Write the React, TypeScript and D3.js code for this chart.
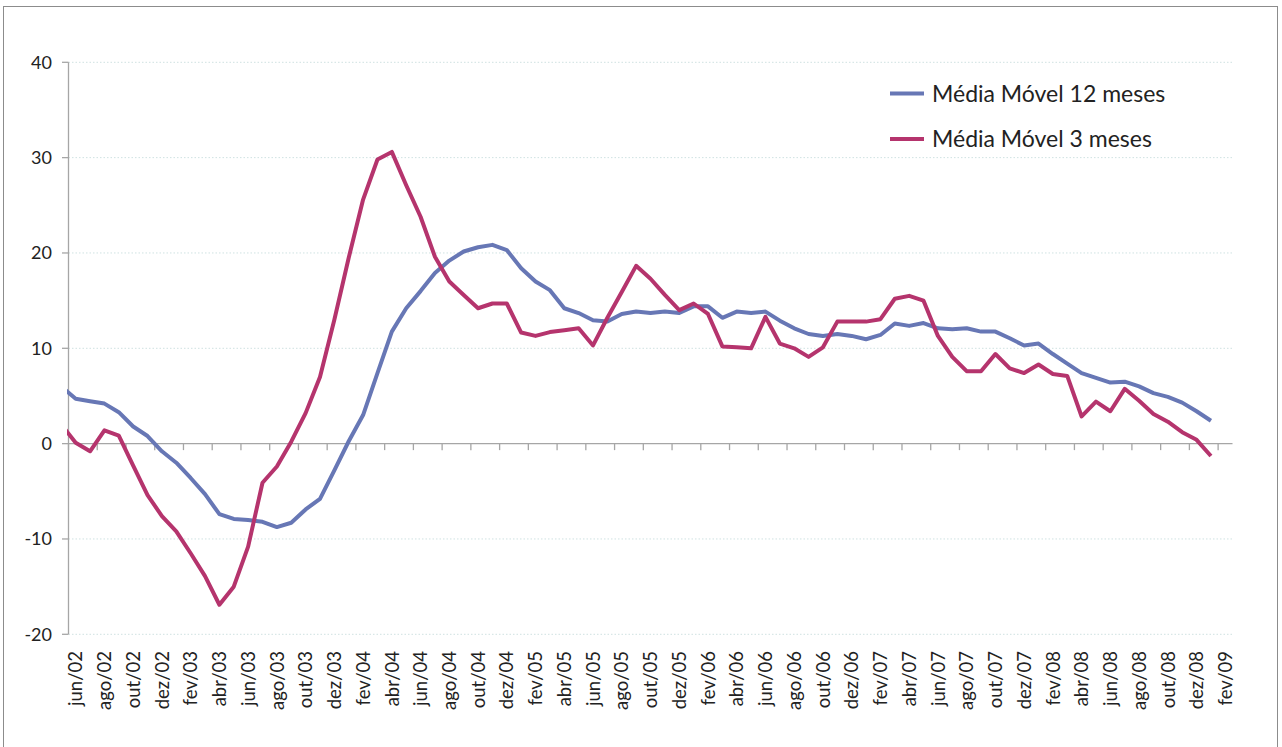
import React, { useRef, useEffect } from 'react';
import * as d3 from 'd3';

// Month abbreviations (pt-BR) used to build the category axis
const MONTH_ABBR = ['jan', 'fev', 'mar', 'abr', 'mai', 'jun', 'jul', 'ago', 'set', 'out', 'nov', 'dez'];

// Categories run from mai/02 (only partly visible, clipped by the axis) to fev/09
const FIRST_MONTH = 4; // mai
const FIRST_YEAR = 2002;
const N_CATEGORIES = 82;

const CATEGORIES: string[] = d3.range(N_CATEGORIES).map(i => {
  const m = (FIRST_MONTH + i) % 12;
  const y = FIRST_YEAR + Math.floor((FIRST_MONTH + i) / 12);
  return `${MONTH_ABBR[m]}/${String(y % 100).padStart(2, '0')}`;
});

// Média móvel 12 meses (mai/02 .. jan/09)
const MEDIA_12 = [
  6.0,
  4.7, 4.45, 4.2, 3.3, 1.8, 0.8, -0.8, -2.0, -3.6, -5.3,
  -7.4, -7.9, -8.0, -8.2, -8.75, -8.3, -6.9, -5.8, -2.8, 0.25,
  3.0, 7.4, 11.75, 14.2, 16.0, 17.9, 19.2, 20.15, 20.6, 20.85,
  20.3, 18.4, 17.0, 16.1, 14.2, 13.7, 12.95, 12.8, 13.6, 13.85,
  13.7, 13.85, 13.7, 14.4, 14.4, 13.2, 13.85, 13.7, 13.85, 12.9,
  12.1, 11.5, 11.3, 11.5, 11.3, 10.95, 11.4, 12.6, 12.35, 12.65,
  12.1, 12.0, 12.1, 11.75, 11.75, 11.05, 10.3, 10.5, 9.4, 8.4,
  7.4, 6.9, 6.4, 6.5, 6.0, 5.3, 4.9, 4.3, 3.4, 2.4
];

// Média móvel 3 meses (mai/02 .. jan/09)
const MEDIA_3 = [
  2.0,
  0.1, -0.8, 1.4, 0.85, -2.3, -5.4, -7.6, -9.2, -11.5, -13.9,
  -16.9, -15.0, -10.8, -4.1, -2.4, 0.2, 3.2, 7.0, 13.0, 19.5,
  25.6, 29.8, 30.6, 27.1, 23.8, 19.6, 17.0, 15.6, 14.2, 14.7,
  14.7, 11.65, 11.3, 11.7, 11.9, 12.1, 10.3, 13.2, 15.9, 18.65,
  17.3, 15.6, 14.0, 14.7, 13.6, 10.2, 10.1, 10.0, 13.3, 10.5,
  10.0, 9.1, 10.1, 12.8, 12.8, 12.8, 13.05, 15.2, 15.5, 15.0,
  11.3, 9.1, 7.6, 7.6, 9.4, 7.9, 7.4, 8.3, 7.3, 7.1,
  2.85, 4.4, 3.4, 5.75, 4.5, 3.1, 2.3, 1.2, 0.4, -1.3
];

const Y_TICKS = [-20, -10, 0, 10, 20, 30, 40];

const SERIES = [
  { name: 'Média Móvel 12 meses', values: MEDIA_12, color: '#6777b5' },
  { name: 'Média Móvel 3 meses', values: MEDIA_3, color: '#b5346d' }
];

const WIDTH = 1282;
const HEIGHT = 747;
const FONT = 'Lato, "Open Sans", sans-serif';

const App: React.FC = () => {
  const svgRef = useRef<SVGSVGElement>(null);

  useEffect(() => {
    if (!svgRef.current) return;
    const svg = d3.select(svgRef.current);
    svg.selectAll('*').remove();

    const plot = { left: 68.5, right: 1232.5, top: 62.3, bottom: 634.3 };

    // category index -> x (category 0 = mai/02 sits left of the axis)
    const x = d3.scaleLinear()
      .domain([0.5, N_CATEGORIES - 0.5])
      .range([plot.left, plot.right]);

    const y = d3.scaleLinear()
      .domain([-20, 40])
      .range([plot.bottom, plot.top]);

    // outer chart border
    svg.append('rect')
      .attr('x', 3.5)
      .attr('y', 6.5)
      .attr('width', 1274)
      .attr('height', 770)
      .attr('fill', '#fff')
      .attr('stroke', '#8c8c8c')
      .attr('stroke-width', 1);

    // dotted gridlines
    svg.append('g')
      .selectAll('line')
      .data(Y_TICKS.filter(t => t !== 0))
      .join('line')
      .attr('x1', plot.left)
      .attr('x2', plot.right)
      .attr('y1', d => y(d))
      .attr('y2', d => y(d))
      .attr('stroke', '#cfe2e2')
      .attr('stroke-width', 1)
      .attr('stroke-dasharray', '1.5,2');

    // y axis
    const yAxis = svg.append('g');
    yAxis.append('line')
      .attr('x1', plot.left).attr('x2', plot.left)
      .attr('y1', plot.top).attr('y2', plot.bottom)
      .attr('stroke', '#a6a6a6').attr('stroke-width', 1.3);
    yAxis.selectAll('line.tick')
      .data(Y_TICKS)
      .join('line')
      .attr('class', 'tick')
      .attr('x1', plot.left - 6.5).attr('x2', plot.left)
      .attr('y1', d => y(d)).attr('y2', d => y(d))
      .attr('stroke', '#a6a6a6').attr('stroke-width', 1.3);
    yAxis.selectAll('text')
      .data(Y_TICKS)
      .join('text')
      .attr('x', 52)
      .attr('y', d => y(d))
      .attr('dy', '0.36em')
      .attr('text-anchor', 'end')
      .attr('font-family', FONT)
      .attr('font-size', 18)
      .attr('fill', '#222')
      .text(d => d);

    // x (category) axis at zero
    const xAxis = svg.append('g');
    xAxis.append('line')
      .attr('x1', plot.left).attr('x2', plot.right)
      .attr('y1', y(0)).attr('y2', y(0))
      .attr('stroke', '#a6a6a6').attr('stroke-width', 1.3);
    const tickBounds = d3.range(0.5, N_CATEGORIES - 1, 2);
    xAxis.selectAll('line.tick')
      .data(tickBounds)
      .join('line')
      .attr('class', 'tick')
      .attr('x1', d => x(d)).attr('x2', d => x(d))
      .attr('y1', y(0)).attr('y2', y(0) + 6.5)
      .attr('stroke', '#a6a6a6').attr('stroke-width', 1.3);

    // category labels every two months, rotated
    const labelled = d3.range(1, N_CATEGORIES, 2);
    svg.append('g')
      .selectAll('text')
      .data(labelled)
      .join('text')
      .attr('transform', d => `translate(${x(d)},651) rotate(-90)`)
      .attr('dy', '0.36em')
      .attr('text-anchor', 'end')
      .attr('font-family', FONT)
      .attr('font-size', 18.5)
      .attr('fill', '#222')
      .text(d => CATEGORIES[d]);

    // clip so the mai/02 segment is cut at the axis
    svg.append('defs')
      .append('clipPath')
      .attr('id', 'plot-clip')
      .append('rect')
      .attr('x', plot.left - 1.5)
      .attr('y', 0)
      .attr('width', plot.right - plot.left + 1.5)
      .attr('height', HEIGHT);

    const line = d3.line<number>()
      .x((d, i) => x(i))
      .y(d => y(d));

    SERIES.forEach(s => {
      svg.append('path')
        .datum(s.values)
        .attr('clip-path', 'url(#plot-clip)')
        .attr('fill', 'none')
        .attr('stroke', s.color)
        .attr('stroke-width', 4)
        .attr('stroke-linejoin', 'round')
        .attr('d', line);
    });

    // legend
    const legend = svg.append('g');
    SERIES.forEach((s, i) => {
      const ly = 93.5 + i * 45.5;
      legend.append('line')
        .attr('x1', 890).attr('x2', 924)
        .attr('y1', ly).attr('y2', ly)
        .attr('stroke', s.color)
        .attr('stroke-width', 4);
      legend.append('text')
        .attr('x', 932)
        .attr('y', ly)
        .attr('dy', '0.36em')
        .attr('font-family', FONT)
        .attr('font-size', 23)
        .attr('fill', '#222')
        .text(s.name);
    });
  }, []);

  return (
    <svg
      ref={svgRef}
      width={WIDTH}
      height={HEIGHT}
      style={{ position: 'absolute', left: 0, top: 0, background: '#fff' }}
    />
  );
};

export default App;
